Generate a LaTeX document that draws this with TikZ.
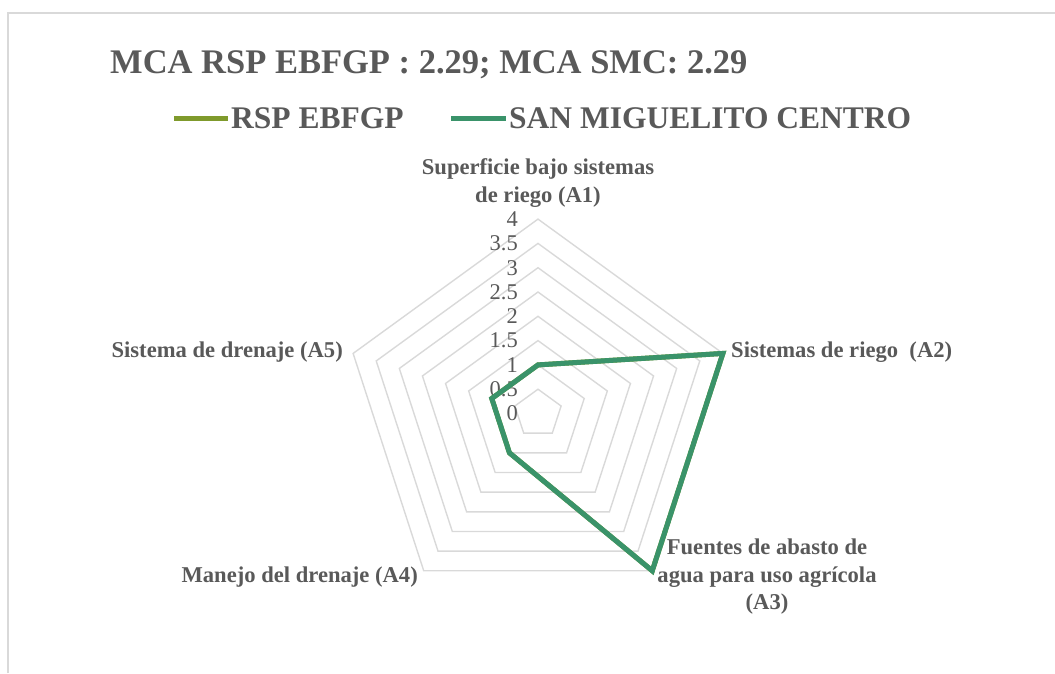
\documentclass[tikz,border=0pt]{standalone}
\usepackage{fontspec}
\setmainfont{Liberation Serif}
\usetikzlibrary{calc}
\definecolor{txtgray}{HTML}{595959}
\definecolor{gridgray}{HTML}{D9D9D9}
\definecolor{seriesA}{HTML}{7F9A2C}
\definecolor{seriesB}{HTML}{3A936A}
\tikzset{
  ring/.style={draw=gridgray, line width=1.4pt},
  ticklbl/.style={text=txtgray, font=\fontsize{22.5}{22.5}\selectfont, anchor=east, inner sep=0pt},
  catlbl/.style={text=txtgray, font=\bfseries\fontsize{22.6}{27.5}\selectfont, inner sep=0pt, align=center},
  legline/.style={line width=5pt},
  legtxt/.style={text=txtgray, font=\bfseries\fontsize{31.5}{31.5}\selectfont, anchor=west, inner sep=0pt},
  series/.style={line width=5pt, line join=miter},
}
\begin{document}
\begin{tikzpicture}[x=1pt,y=1pt]
\useasboundingbox (0,-673) rectangle (1055,0);
% outer frame of the chart area
\draw[gridgray, line width=1.5pt] (8,-673) -- (8,-13) -- (1055,-13);

% title
\node[text=txtgray, font=\bfseries\fontsize{34.5}{34.5}\selectfont, anchor=west, inner sep=0pt] (title) at (110,-65) {MCA RSP EBFGP : 2.29; MCA SMC: 2.29};

% legend
\coordinate (la1) at (174,-118);
\coordinate (la2) at (228,-118);
\draw[legline, seriesA] (la1) -- (la2);
\node[legtxt] (lta) at (231,-118) {RSP EBFGP};
\coordinate (lb1) at (451,-118);
\coordinate (lb2) at (506,-118);
\draw[legline, seriesB] (lb1) -- (lb2);
\node[legtxt] (ltb) at (509,-118) {SAN MIGUELITO CENTRO};

% radar grid
\begin{scope}[shift={(538,-413.5)}]
  \def\U{48.6}
  \foreach \r in {0.5,1,1.5,2,2.5,3,3.5,4}{
    \draw[ring] (90:\r*\U) -- (18:\r*\U) -- (-54:\r*\U) -- (-126:\r*\U) -- (162:\r*\U) -- cycle;
  }
  \foreach \v/\t in {0/0,0.5/0.5,1/1,1.5/1.5,2/2,2.5/2.5,3/3,3.5/3.5,4/4}{
    \node[ticklbl] (tick\v) at (-20,\v*\U) {\t};
  }
  % data points
  \coordinate (p1) at (90:1*\U);
  \coordinate (p2) at (18:4*\U);
  \coordinate (p3) at (-54:4*\U);
  \coordinate (p4) at (-126:1*\U);
  \coordinate (p5) at (162:1*\U);
  \draw[series, seriesA] (p1) -- (p2) -- (p3) -- (p4) -- (p5) -- cycle;
  \draw[series, seriesB] (p1) -- (p2) -- (p3) -- (p4) -- (p5) -- cycle;
\end{scope}

% category labels
\node[catlbl] (a1) at (538,-183) {Superficie bajo sistemas\\de riego (A1)};
\node[catlbl, anchor=west] (a2) at (731,-352) {Sistemas de riego~~(A2)};
\node[catlbl] (a3) at (767,-577) {Fuentes de abasto de\\agua para uso agrícola\\(A3)};
\node[catlbl, anchor=east] (a4) at (418,-577) {Manejo del drenaje (A4)};
\node[catlbl, anchor=east] (a5) at (343,-352) {Sistema de drenaje (A5)};
\end{tikzpicture}
\end{document}
